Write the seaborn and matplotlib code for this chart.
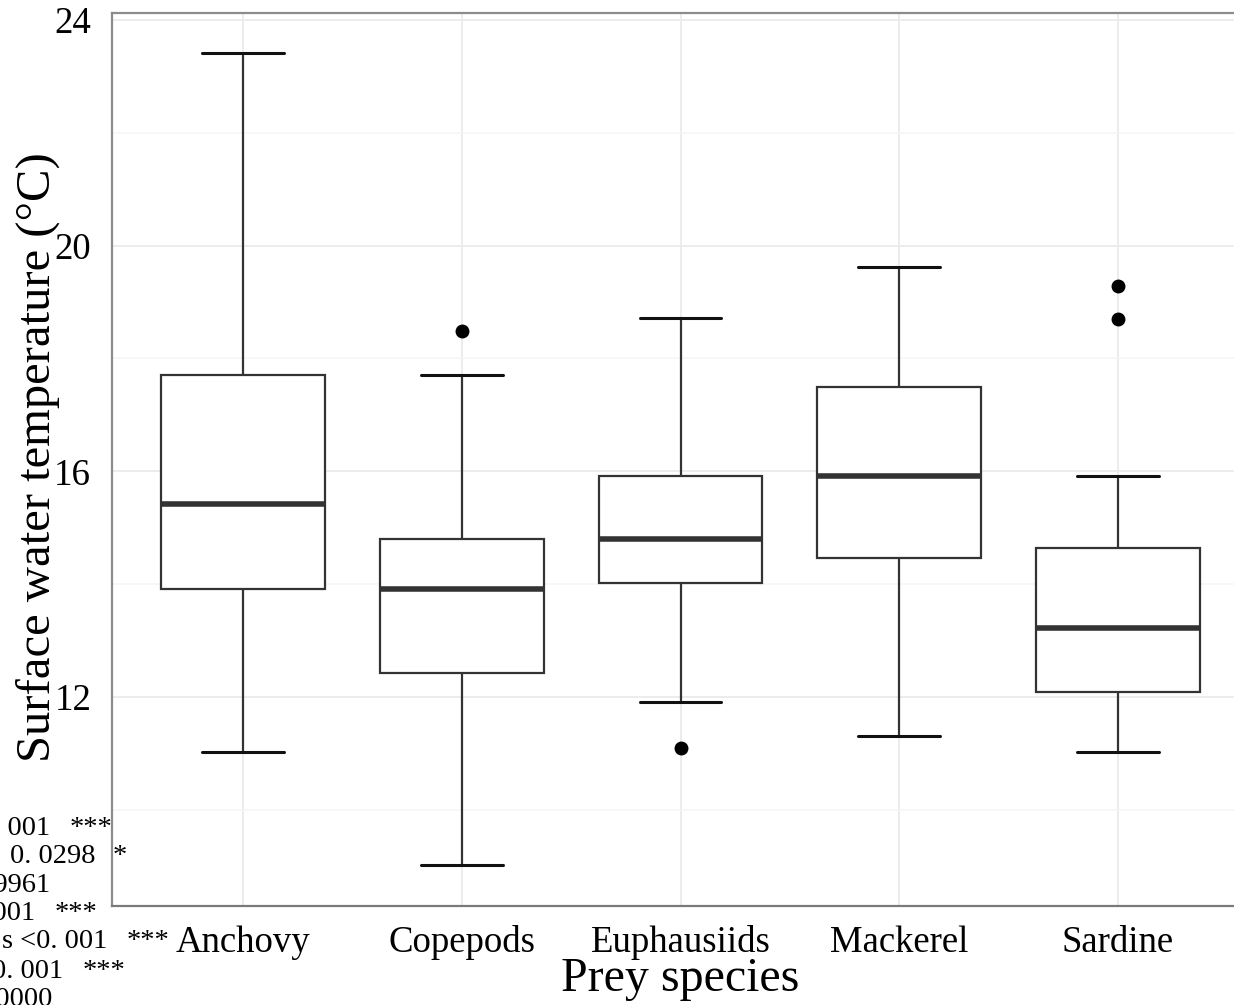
import matplotlib
matplotlib.use("Agg")
import matplotlib.pyplot as plt
from matplotlib.ticker import MultipleLocator, FixedLocator
import numpy as np
import pandas as pd
import seaborn as sns

# Box summaries of surface water temperature (°C) per prey species
species = ["Anchovy", "Copepods", "Euphausiids", "Mackerel", "Sardine"]
whisker_low = [11.02, 9.02, 11.92, 11.31, 11.02]
q1 = [13.92, 12.43, 14.02, 14.47, 12.09]
median = [15.42, 13.92, 14.80, 15.92, 13.22]
q3 = [17.71, 14.80, 15.92, 17.49, 14.65]
whisker_high = [23.41, 17.71, 18.71, 19.62, 15.92]
outliers_low = [[], [], [11.10], [], []]
outliers_high = [[], [18.49], [], [], [18.70, 19.29]]

y_ticks = [12, 16, 20, 24]

# Post-hoc comparison lines printed at the lower left
stat_numbers = ["<0. 001", "0. 0298", "0. 9961", "<0. 001", "s <0. 001", "<0. 001", "1. 0000"]
stat_stars = ["***", "*", "", "***", "***", "***", ""]


def sample_from_summary(lo, a, m, b, hi, out_lo, out_hi):
    # 13 sorted values: quartiles land exactly on positions 3, 6 and 9
    lower = list(out_lo) + [lo]
    lower = lower + [a] * (3 - len(lower))
    upper = [hi] + list(out_hi)
    upper = [b] * (3 - len(upper)) + upper
    return lower + [a, a, a] + [m, m] + [m] + [b, b] + [b] + upper


rows = []
for i, sp in enumerate(species):
    vals = sample_from_summary(whisker_low[i], q1[i], median[i], q3[i],
                               whisker_high[i], outliers_low[i], outliers_high[i])
    rows += [(sp, v) for v in vals]
df = pd.DataFrame(rows, columns=["species", "temp"])

sns.set_style("white")
plt.rcParams["font.family"] = ["Liberation Serif", "DejaVu Serif"]

W, H = 1234, 1005
fig = plt.figure(figsize=(W / 100, H / 100), dpi=100)
left, right, top, bottom = 112, 1249, 13, 906
ax = fig.add_axes([left / W, 1 - bottom / H, (right - left) / W, (bottom - top) / H])

sns.boxplot(
    data=df, x="species", y="temp", order=species, ax=ax,
    width=0.75, color="white", linecolor="#333333", linewidth=1.6,
    whis=1.52, fliersize=9,
    medianprops=dict(linewidth=4, color="#333333"),
    capprops=dict(linewidth=2.2, color="#111111"),
    flierprops=dict(marker="o", markerfacecolor="black",
                    markeredgecolor="black"),
)

ax.set_xlim(-0.6, 4.6)
ax.set_ylim(8.30, 24.12)
ax.yaxis.set_major_locator(FixedLocator(y_ticks))
ax.yaxis.set_minor_locator(MultipleLocator(2))

ax.set_axisbelow(True)
ax.grid(which="major", axis="both", color="#ebebeb", linewidth=1.3)
ax.grid(which="minor", axis="y", color="#f5f5f5", linewidth=1.1)

for name, s in ax.spines.items():
    s.set_color("#8c8c8c" if name != "bottom" else "#7a7a7a")
    s.set_linewidth(1.6)

ax.tick_params(axis="both", which="major", direction="out", length=8, width=1.6,
               color="#222222", labelsize=26.5, labelcolor="black")
ax.tick_params(axis="x", pad=6)
ax.tick_params(axis="y", pad=7)
ax.tick_params(which="minor", length=0)

ax.set_xlabel("Prey species", fontsize=34.5, color="black")
ax.set_ylabel("Surface water temperature (°C)", fontsize=35, color="black")
ax.xaxis.set_label_coords(0.5, -0.057)
ax.yaxis.set_label_coords(-0.046, 0.503)

# Cropped statistics table along the lower left edge
baselines = [835, 863, 892, 920, 948, 978, 1006]
num_right = [50, 95, 50, 35, 107, 63, 52]
star_left = [70, 113, 0, 55, 127, 83, 0]
for yb, nr, sl, txt, st in zip(baselines, num_right, star_left, stat_numbers, stat_stars):
    fig.text(nr / W, 1 - yb / H, txt, ha="right", va="baseline",
             fontsize=20.5, color="black", zorder=10)
    if st:
        fig.text(sl / W, 1 - yb / H, st, ha="left", va="baseline",
                 fontsize=20.5, color="black", zorder=10)

fig.savefig("out.png", dpi=100)
